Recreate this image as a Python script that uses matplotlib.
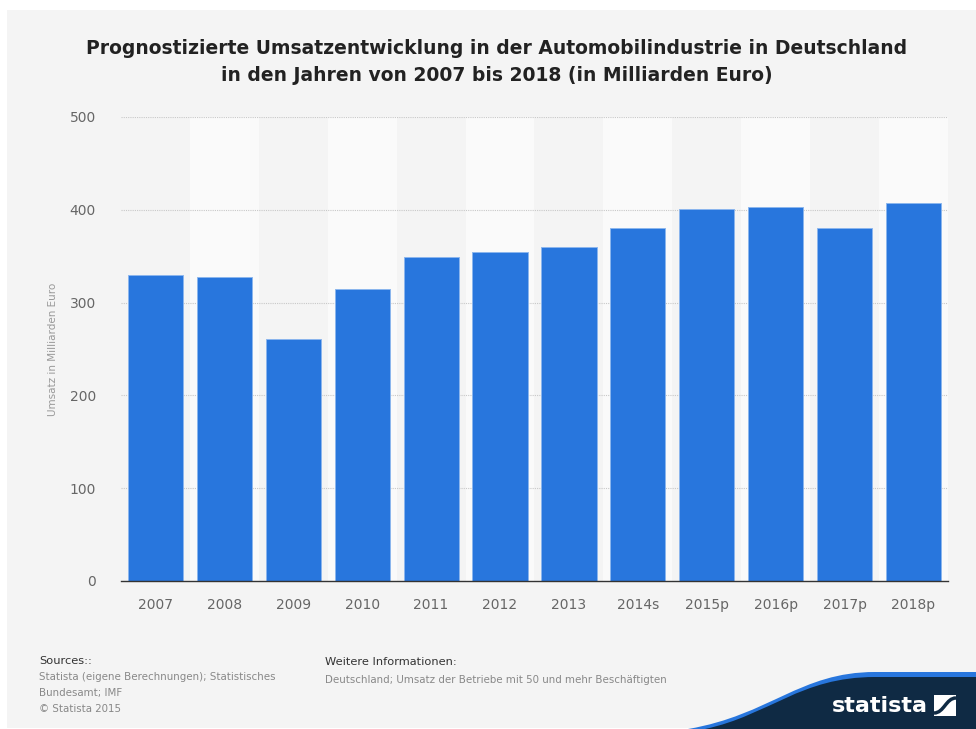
import matplotlib.pyplot as plt
from matplotlib.patches import Rectangle, PathPatch
from matplotlib.path import Path

years = ["2007", "2008", "2009", "2010", "2011", "2012", "2013",
         "2014s", "2015p", "2016p", "2017p", "2018p"]
umsatz = [330, 328, 261, 315, 349, 355, 360, 380, 401, 403, 380, 407]
y_ticks = [0, 100, 200, 300, 400, 500]

title = ("Prognostizierte Umsatzentwicklung in der Automobilindustrie in Deutschland\n"
         "in den Jahren von 2007 bis 2018 (in Milliarden Euro)")
sources = ["Statista (eigene Berechnungen); Statistisches", "Bundesamt; IMF", "\u00a9 Statista 2015"]
info = "Deutschland; Umsatz der Betriebe mit 50 und mehr Besch\u00e4ftigten"

W, H = 976, 729
bg = "#f4f4f4"
navy = "#0f2a44"
fig = plt.figure(figsize=(W / 100, H / 100), dpi=100, facecolor="white")

# full-figure overlay in pixel coords for background, footer and logo
deco = fig.add_axes([0, 0, 1, 1], zorder=0)
deco.set_xlim(0, W)
deco.set_ylim(H, 0)
deco.axis("off")
deco.add_patch(Rectangle((7, 10), W - 7, 718, color=bg, lw=0))

def px_axes(x0, y0, x1, y1):
    return [x0 / W, (H - y1) / H, (x1 - x0) / W, (y1 - y0) / H]

ax = fig.add_axes(px_axes(121, 117, 948, 581), zorder=1)
ax.set_facecolor(bg)
x = range(len(years))
for i in x:
    if i % 2 == 1:
        ax.axvspan(i - 0.5, i + 0.5, color="#fafafa", lw=0, zorder=0)
ax.bar(x, umsatz, width=0.8, color="#2876dd", edgecolor="#8bb6ee", linewidth=0.7, zorder=3)
ax.set_xlim(-0.5, len(years) - 0.5)
ax.set_ylim(0, 500)
ax.set_yticks(y_ticks)
for t in y_ticks[1:]:
    ax.axhline(t, color="#c8c8c8", lw=0.8, ls=(0, (1, 1)), zorder=1)
for s in ["top", "right", "left"]:
    ax.spines[s].set_visible(False)
ax.spines["bottom"].set_color("#333333")
ax.spines["bottom"].set_linewidth(1.0)
ax.spines["bottom"].set_zorder(4)
ax.set_xticks(list(x))
ax.set_xticklabels(years)
ax.tick_params(axis="both", length=0, labelsize=10, labelcolor="#666666")
ax.tick_params(axis="y", pad=18)
ax.tick_params(axis="x", pad=12)
ax.set_ylabel("Umsatz in Milliarden Euro", fontsize=7.5, color="#999999")
ax.yaxis.set_label_coords(-63 / 827, 0.5)

deco.text(497, 62, title, ha="center", va="center", fontsize=13.5, fontweight="bold",
          color="#222222", linespacing=1.55)

deco.text(39, 661, "Sources::", fontsize=8.2, color="#333333", va="center")
for k, line in enumerate(sources):
    deco.text(39, 677 + k * 16, line, fontsize=7.4, color="#888888", va="center")
deco.text(325, 662, "Weitere Informationen:", fontsize=8.2, color="#333333", va="center")
deco.text(325, 680, info, fontsize=7.4, color="#888888", va="center")

# logo swoosh: blue band with navy shape below it
def swoosh(x0, top):
    verts = [(x0, 729), (770, 715), (800, top), (875, top),
             (W, top), (W, 729), (x0, 729)]
    codes = [Path.MOVETO, Path.CURVE4, Path.CURVE4, Path.CURVE4,
             Path.LINETO, Path.LINETO, Path.CLOSEPOLY]
    return Path(verts, codes)

deco.add_patch(PathPatch(swoosh(688, 672), facecolor="#2876dd", lw=0))
deco.add_patch(PathPatch(swoosh(705, 677), facecolor=navy, lw=0))
deco.text(880, 706, "statista", fontsize=16, fontweight="bold", color="white",
          ha="center", va="center")
deco.add_patch(Rectangle((934, 695), 22, 21, facecolor="white", lw=0))
deco.add_patch(PathPatch(Path([(934, 713), (944, 713), (946, 698), (956, 698)],
                              [Path.MOVETO, Path.CURVE4, Path.CURVE4, Path.CURVE4]),
                         facecolor="none", edgecolor=navy, lw=2.5))

fig.savefig("out.png", dpi=100, facecolor="white")
